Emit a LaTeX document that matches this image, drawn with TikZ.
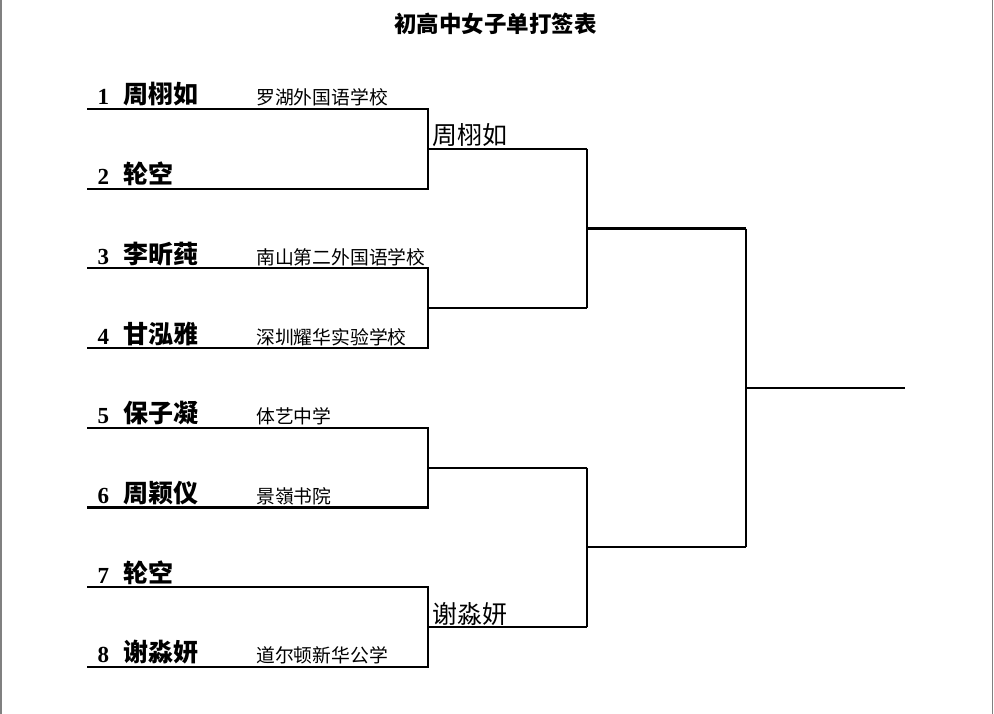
\documentclass[tikz,border=0pt]{standalone}
\usepackage{fontspec}
\setmainfont{Liberation Serif}
\newfontfamily\cjk{Noto Sans CJK SC}

\begin{document}
\begin{tikzpicture}[x=1pt,y=-1pt,
		seed/.style={anchor=base west,inner sep=0pt,font=\bfseries\fontsize{23}{23}\selectfont},
		player/.style={anchor=base west,inner sep=0pt,font=\cjk\bfseries\fontsize{25}{25}\selectfont},
		school/.style={anchor=base west,inner sep=0pt,font=\cjk\fontsize{18.8}{19}\selectfont},
		winner/.style={anchor=base west,inner sep=0pt,font=\cjk\fontsize{25}{25}\selectfont},
		bracket/.style={line width=2.2pt,line join=miter},
		edge/.style={gray,line width=1.5pt}]
		\useasboundingbox (0,0) rectangle (994,714);
		\draw[edge] (0.75,0) -- (0.75,714);
		\draw[edge] (992.25,0) -- (992.25,714);
		\node[font=\cjk\bfseries\fontsize{22.5}{23}\selectfont,anchor=base,inner sep=0pt] (title) at (495.5,33) {初高中女子单打签表};
		\foreach \i/\who in {1/周栩如,2/轮空,3/李昕莼,4/甘泓雅,5/保子凝,6/周颖仪,7/轮空,8/谢淼妍} {
			\pgfmathsetmacro{\yy}{109+(\i-1)*79.7}
			\coordinate (p\i) at (87,\yy);
			\coordinate (q\i) at (428,\yy);
			\node[seed] (n\i) at (97.5,\yy-4) {\i};
			\node[player] (w\i) at (123,\yy-5) {\who};
		}
		\foreach \i/\where in {1/罗湖外国语学校,3/南山第二外国语学校,4/深圳耀华实验学校,5/体艺中学,6/景嶺书院,8/道尔顿新华公学} {
			\pgfmathsetmacro{\yy}{109+(\i-1)*79.7-4}
			\node[school] (s\i) at (256,\yy) {\where};
		}
		\foreach \a/\b/\m in {1/2/1,3/4/2,5/6/3,7/8/4} {
			\pgfmathsetmacro{\yy}{109+(\a-0.5)*79.7}
			\coordinate (c\m) at (428,\yy);
			\coordinate (m\m) at (587,\yy);
			\draw[bracket] (p\a) -- (q\a) -- (q\b) -- (p\b);
			\draw[bracket] (c\m) -- (m\m);
		}
		\foreach \a/\b/\m in {1/2/1,3/4/2} {
			\pgfmathsetmacro{\yy}{109+(4*\m-2.5)*79.7}
			\coordinate (r\m) at (746,\yy);
			\coordinate (k\m) at (587,\yy);
			\draw[bracket] (m\a) -- (m\b);
			\draw[bracket] (k\m) -- (r\m);
		}
		\coordinate (f) at (746,388);
		\coordinate (champ) at (905,388);
		\draw[bracket] (r1) -- (r2);
		\draw[bracket] (f) -- (champ);
		\node[winner] (top) at (432,145) {周栩如};
		\node[winner] (bottom) at (432,623.5) {谢淼妍};
	\end{tikzpicture}
\end{document}
